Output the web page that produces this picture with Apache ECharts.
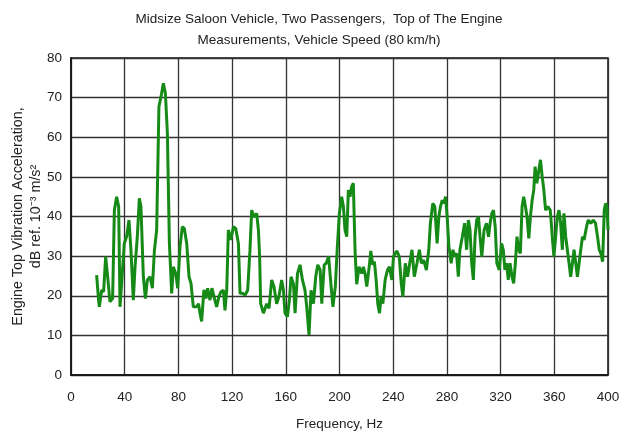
<!DOCTYPE html>
<html>
<head>
<meta charset="utf-8">
<script src="https://cdn.jsdelivr.net/npm/echarts@6/dist/echarts.min.js"></script>
<style>
html,body{margin:0;padding:0;background:#fff;}
#c{width:619px;height:435px;}
</style>
</head>
<body>
<div id="c"></div>
<script>
const titleLines = ['Midsize Saloon Vehicle, Two Passengers,  Top of The Engine', 'Measurements, Vehicle Speed (80\u2009km/h)'];
const xTicks = [0, 40, 80, 120, 160, 200, 240, 280, 320, 360, 400];
const yTicks = [0, 10, 20, 30, 40, 50, 60, 70, 80];
const freqHz = [
19.1,20.5,21.1,22.8,24.3,25.8,27.3,29.0,31.0,32.3,34.0,35.5,36.5,37.7,39.7,41.4,43.2,44.7,46.4,47.7,
49.4,50.9,52.1,53.9,55.4,56.9,58.9,60.6,62.1,63.8,65.5,67.3,68.8,70.3,71.8,73.3,75.0,76.2,78.0,79.5,
81.2,82.9,84.4,86.2,87.9,89.4,91.1,93.6,95.0,96.1,97.3,99.0,100.5,101.8,103.5,105.0,106.5,108.5,110.2,111.7,
113.5,114.7,116.0,117.2,119.0,121.0,122.7,124.7,125.9,127.7,129.7,131.6,133.3,134.6,136.3,138.3,139.6,140.5,141.3,143.3,
145.8,147.5,149.5,151.2,153.2,154.9,156.9,158.2,159.4,161.2,162.7,163.9,165.7,166.9,168.7,170.6,172.4,174.3,175.6,177.3,
178.8,180.6,182.3,183.8,185.6,186.8,188.6,190.1,191.9,193.6,195.1,196.9,198.4,199.9,201.6,202.9,204.1,205.4,206.6,207.8,
209.1,210.3,211.6,212.8,214.6,216.6,217.8,219.0,220.3,222.3,223.3,224.8,226.0,227.3,228.5,229.8,231.0,232.3,234.0,235.7,
237.2,239.0,240.2,242.7,244.5,246.0,247.2,249.0,250.7,252.7,254.0,255.7,257.7,259.5,261.0,262.7,264.7,266.5,267.7,269.5,
271.0,272.7,274.0,275.2,276.5,277.7,279.0,280.2,281.5,283.2,284.5,285.7,287.2,288.5,289.7,291.5,293.2,294.7,296.0,297.2,
298.5,299.7,301.0,302.2,303.5,304.7,306.0,307.7,309.5,311.0,312.2,313.5,314.7,316.0,317.2,319.0,320.7,322.0,323.2,324.5,
325.7,327.0,328.5,329.7,331.0,332.2,333.5,334.7,336.0,337.2,338.5,339.7,341.0,342.2,343.5,344.7,345.7,347.0,348.2,349.7,
351.0,352.2,353.5,355.2,357.0,358.5,359.7,361.0,362.2,363.5,364.7,366.0,367.2,368.5,369.7,371.0,372.2,373.5,374.7,376.0,
377.2,378.5,379.7,381.0,382.2,384.0,385.2,387.2,389.0,390.7,392.2,393.5,394.7,396.0,397.2,398.2,399.2,400.0
];
const accelDb = [
25.2,19,17.2,21.4,21,29.9,24.8,18.5,19.3,41.6,45.0,42.5,17.2,23.1,33.2,34.9,39.1,31.3,18.9,27.3,
34.9,44.6,42.5,24.8,19.3,24.0,24.8,21.9,31.3,36.6,67.7,70.7,73.6,71.1,61,33.2,20.6,27.3,25.6,21.9,
32.4,37.4,37.0,33.2,24.8,23.1,17.2,17.2,18,15.6,13.5,21.5,19.3,21.9,18.9,21.9,19.8,17.2,19.8,21.0,
21.4,16.3,21.4,36.6,34.1,37.4,37.0,33.2,20.6,20.6,20.2,21.4,31.5,41.6,39.9,40.8,36.6,29.9,18,15.6,
18,16.8,24,22.3,18,19.8,24,21.5,15.6,14.7,19,24.8,23,15.6,25.6,27.8,24.0,21.4,17.2,10.1,
21.4,18,24.8,27.8,26.5,18,27.8,28.2,29.9,23,17.2,22.3,32.4,40.8,45,42.5,36.6,34.9,46.7,45,
47.6,48.4,31.3,22.9,27.3,25.6,27.3,25.6,22.3,27.8,31.3,27.8,28.6,24.0,18,15.6,19.8,18,24,26.5,
27.3,24,29.9,31.3,29.9,23.1,19.8,28.2,24.8,29,31.6,24.8,28.2,31.6,28.2,29,26.5,31.6,38.3,43.3,
42.5,33.2,39.9,42.5,44.1,43.3,45,39.9,32.4,28.2,31.6,29.9,30.7,24.8,31.6,34.9,38.3,31.6,39.1,36.6,
28.2,24.0,34.9,39.1,39.9,34.9,29.9,36.6,38.3,34.9,38.3,40.8,41.6,37.4,28.2,26.5,33.2,31.6,26.5,28.2,
24,28.2,24.8,23.1,28.2,34.9,31.6,30.7,42.5,45,42.5,39.9,34.5,39.9,44.1,46.7,52.6,48.4,51,54.3,
50,46.7,41.6,42.5,41.6,34.9,29.9,34.9,39.9,41.6,38.3,31.6,40.8,34.9,31.6,28.2,24.8,28.2,31.6,28.2,
24.8,24.8,31.6,34.9,34.1,37.4,39.1,38.3,39.1,38.3,34.9,31.6,30.7,28.6,41.6,43.3,42.5,36.6
];
const xName = 'Frequency, Hz';
const yName = 'Engine Top Vibration Acceleration,\ndB ref. 10\u207B\u00B3 m/s\u00B2';

const points = freqHz.map((f, i) => [f, accelDb[i]]);
const font = 'Liberation Sans, Arial, sans-serif';
const chart = echarts.init(document.getElementById('c'), null, {renderer: 'canvas'});
chart.setOption({
  animation: false,
  backgroundColor: '#fff',
  title: {
    text: titleLines.join('\n'),
    left: 314, top: 4, textAlign: 'center',
    textStyle: {fontFamily: font, fontSize: 13.5, fontWeight: 'normal', color: '#222', lineHeight: 21}
  },
  grid: {left: 71, right: 11, top: 58, bottom: 60, show: true, borderColor: '#111', borderWidth: 1.5,
         containLabel: false, outerBoundsMode: 'none'},
  xAxis: {
    type: 'value', min: 0, max: 400, interval: 40,
    name: xName, nameLocation: 'middle', nameGap: 42,
    nameTextStyle: {fontFamily: font, fontSize: 13.5, color: '#222'},
    axisLine: {show: true, lineStyle: {color: '#111', width: 1.5}},
    axisTick: {show: false},
    axisLabel: {fontFamily: font, fontSize: 13.5, color: '#222', margin: 15},
    splitLine: {show: true, lineStyle: {color: '#333', width: 1.3}}
  },
  yAxis: {
    type: 'value', min: 0, max: 80, interval: 10,
    name: yName, nameLocation: 'middle', nameGap: 26, nameRotate: 90, nameMoveOverlap: false,
    nameTextStyle: {fontFamily: font, fontSize: 14.3, color: '#222', lineHeight: 18},
    axisLine: {show: true, lineStyle: {color: '#111', width: 1.5}},
    axisTick: {show: false},
    axisLabel: {fontFamily: font, fontSize: 13.5, color: '#222', margin: 9},
    splitLine: {show: true, lineStyle: {color: '#333', width: 1.3}}
  },
  series: [{
    type: 'line', data: points, showSymbol: false, smooth: false,
    lineStyle: {color: '#168a16', width: 3}, itemStyle: {color: '#168a16'}
  }]
});
</script>
</body>
</html>
